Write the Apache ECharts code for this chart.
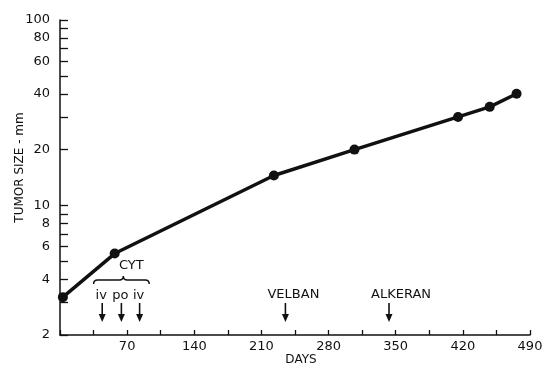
<!DOCTYPE html>
<html>
<head>
<meta charset="utf-8">
<script src="https://cdn.jsdelivr.net/npm/echarts@6/dist/echarts.min.js"></script>
<style>html,body{margin:0;padding:0;background:#fff}#c{width:544px;height:369px}</style>
</head>
<body>
<div id="c"></div>
<script>
// Data
var days = [3, 57, 223, 307, 415, 448, 476];
var tumorSize = [3.2, 5.5, 14.5, 20, 30, 34, 40];
var xTickValues = [0, 35, 70, 105, 140, 175, 210, 245, 280, 315, 350, 385, 420, 455, 490];
var xLabelValues = [70, 140, 210, 280, 350, 420, 490];
var yTickValues = [2, 3, 4, 5, 6, 7, 8, 9, 10, 20, 30, 40, 50, 60, 70, 80, 90, 100];
var yLabelValues = [2, 4, 6, 8, 10, 20, 40, 60, 80, 100];
// Treatments: [label, day]
var cytDoses = [['iv', 44], ['po', 64], ['iv', 83]];
var cytCourse = ['CYT', 35, 93, 66]; // label, start day, end day, brace tip day
var drugs = [['VELBAN', 235], ['ALKERAN', 343]];

var FONT = 'DejaVu Sans';
var INK = '#111';

var seriesData = days.map(function (d, i) { return [d, tumorSize[i]]; });

function arrowShapes(x, yAxis, children) {
  children.push({ type: 'line', shape: { x1: x, y1: yAxis - 32, x2: x, y2: yAxis - 20 },
    style: { stroke: INK, lineWidth: 1.6 } });
  children.push({ type: 'polygon', shape: { points: [[x - 3.5, yAxis - 21], [x + 3.5, yAxis - 21], [x, yAxis - 13]] },
    style: { fill: INK } });
}

var annoData = [];
cytDoses.forEach(function (c) { annoData.push(['dose', c[1], c[0]]); });
drugs.forEach(function (c) { annoData.push(['drug', c[1], c[0]]); });
annoData.push(['brace', cytCourse[1], cytCourse[0], cytCourse[2], cytCourse[3]]);

var option = {
  animation: false,
  backgroundColor: '#fff',
  grid: { left: 60, right: 14, top: 20, bottom: 34, containLabel: false, outerBoundsMode: 'none' },
  xAxis: {
    type: 'value', min: 0, max: 490, interval: 35,
    name: 'DAYS', nameLocation: 'middle', nameGap: 19, nameMoveOverlap: false,
    nameTextStyle: { fontFamily: FONT, fontSize: 12, color: INK, padding: [0, 0, 0, 12] },
    axisLine: { show: true, lineStyle: { color: INK, width: 1.5 } },
    axisTick: { show: true, inside: true, length: 5, lineStyle: { color: INK, width: 1.3 }, customValues: xTickValues },
    axisLabel: { fontFamily: FONT, fontSize: 13, color: INK, margin: 5, customValues: xLabelValues },
    splitLine: { show: false }
  },
  yAxis: {
    type: 'log', logBase: 10, min: 2, max: 100,
    name: 'TUMOR SIZE - mm', nameLocation: 'middle', nameGap: 34, nameRotate: 90, nameMoveOverlap: false,
    nameTextStyle: { fontFamily: FONT, fontSize: 12, color: INK, padding: [0, 0, 0, 20] },
    axisLine: { show: true, lineStyle: { color: INK, width: 1.5 } },
    axisTick: { show: true, inside: true, length: 8, lineStyle: { color: INK, width: 1.3 }, customValues: yTickValues },
    axisLabel: { fontFamily: FONT, fontSize: 13, color: INK, margin: 10, customValues: yLabelValues },
    splitLine: { show: false }
  },
  series: [
    {
      type: 'line', data: seriesData,
      symbol: 'circle', symbolSize: 10,
      lineStyle: { color: INK, width: 3.5 },
      itemStyle: { color: INK },
      z: 3
    },
    {
      type: 'custom',
      data: annoData,
      silent: true,
      clip: false,
      encode: { x: 1 },
      renderItem: function (params, api) {
        var kind = annoData[params.dataIndex][0];
        var item = annoData[params.dataIndex];
        var p = api.coord([item[1], 2]);
        var x = p[0], yA = p[1];
        var children = [];
        if (kind === 'dose') {
          arrowShapes(x, yA, children);
          children.push({ type: 'text', x: x - 1, y: yA - 39,
            style: { text: item[2], fontFamily: FONT, fontSize: 13, fill: INK, align: 'center', verticalAlign: 'middle' } });
        } else if (kind === 'drug') {
          arrowShapes(x, yA, children);
          var shift = item[2] === 'VELBAN' ? 8 : 12;
          children.push({ type: 'text', x: x + shift, y: yA - 40,
            style: { text: item[2], fontFamily: FONT, fontSize: 13, fill: INK, align: 'center', verticalAlign: 'middle' } });
        } else if (kind === 'brace') {
          var x1 = x;
          var x2 = api.coord([item[3], 2])[0];
          var xm = api.coord([item[4], 2])[0];
          var y = yA - 55;
          var r = 4;
          var d = 'M' + x1 + ' ' + (y + r) +
            ' Q' + x1 + ' ' + y + ' ' + (x1 + r) + ' ' + y +
            ' L' + (xm - r) + ' ' + y +
            ' Q' + xm + ' ' + y + ' ' + xm + ' ' + (y - r) +
            ' Q' + xm + ' ' + y + ' ' + (xm + r) + ' ' + y +
            ' L' + (x2 - r) + ' ' + y +
            ' Q' + x2 + ' ' + y + ' ' + x2 + ' ' + (y + r);
          children.push({ type: 'path', shape: { pathData: d },
            style: { stroke: INK, lineWidth: 1.5, fill: null } });
          children.push({ type: 'text', x: xm + 8, y: yA - 69,
            style: { text: item[2], fontFamily: FONT, fontSize: 13, fill: INK, align: 'center', verticalAlign: 'middle' } });
        }
        return { type: 'group', children: children };
      },
      z: 4
    }
  ]
};

var chart = echarts.init(document.getElementById('c'), null, { renderer: 'canvas' });
chart.setOption(option);
</script>
</body>
</html>
